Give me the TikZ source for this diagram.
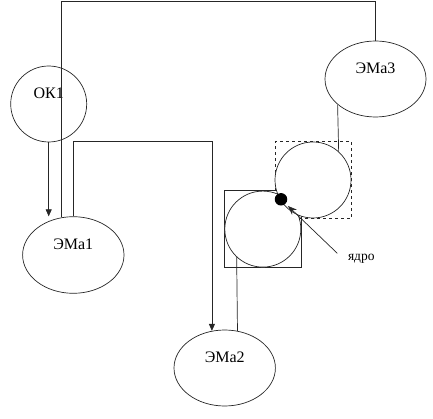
\documentclass[tikz,border=0pt]{standalone}
\usepackage{fontspec}
\setmainfont{Liberation Serif}
\usetikzlibrary{shapes.geometric,arrows.meta}
\begin{document}
\begin{tikzpicture}[x=1pt,y=-1pt,
  ln/.style={draw=black!85,line width=0.7pt},
  arr/.style={ln,-{Triangle[length=7pt,width=6pt]}},
  ptr/.style={ln,-{Stealth[length=9pt,width=7pt]}},
  oval/.style={ellipse,ln,inner sep=0pt,fill=white},
  cell/.style={circle,ln,inner sep=0pt,minimum size=76pt,fill=white},
  frame/.style={rectangle,ln,inner sep=0pt,minimum size=76.5pt},
  lbl/.style={font=\fontsize{16}{19}\selectfont},
]
\useasboundingbox (0,0) rectangle (433,419);
% ovals
\node[oval,minimum width=76pt,minimum height=76pt,label={[lbl,yshift=10.5pt]center:ОК1}] (ok1) at (48.7,104) {};
\node[oval,minimum width=101pt,minimum height=76pt,label={[lbl,yshift=10.5pt]center:ЭМа3}] (ema3) at (375.5,79) {};
\node[oval,minimum width=101.4pt,minimum height=76.6pt,label={[lbl,yshift=10.5pt]center:ЭМа1}] (ema1) at (73.3,255) {};
\node[oval,minimum width=101.4pt,minimum height=76pt,label={[lbl,yshift=10.5pt]center:ЭМа2}] (ema2) at (224.7,368) {};
% squares and circles
\node[frame] (sq1) at (262.6,229.1) {};
\node[frame,dashed] (sq2) at (313.5,179.8) {};
\node[cell] (c1) at (262.8,229.1) {};
\node[cell] (c2) at (313,180) {};
\node[circle,fill=black,inner sep=0pt,minimum size=12.5pt] (dot) at (281,199.3) {};
\node[font=\fontsize{13.5}{16}\selectfont,inner sep=0pt] (yadro) at (361.3,258.3) {ядро};
\coordinate (ystart) at (337.3,253.3);
% connectors
\draw[ln] (ema1.108.8) -- (ema1.108.8 |- 0,1.7) -| (ema3.north);
\draw[arr] (ok1.south) -- (ok1.south |- ema1.north);
\draw[arr] (ema1.north) -- (ema1.north |- 0,141.7) -| (ema2.109);
\draw[ln] (ema2.71) -- (c1.227.9);
\draw[ln] (ema3.214.6) -- (c2.48.3);
\draw[ptr,shorten >=3.2pt] (ystart) -- (dot);
\end{tikzpicture}
\end{document}
